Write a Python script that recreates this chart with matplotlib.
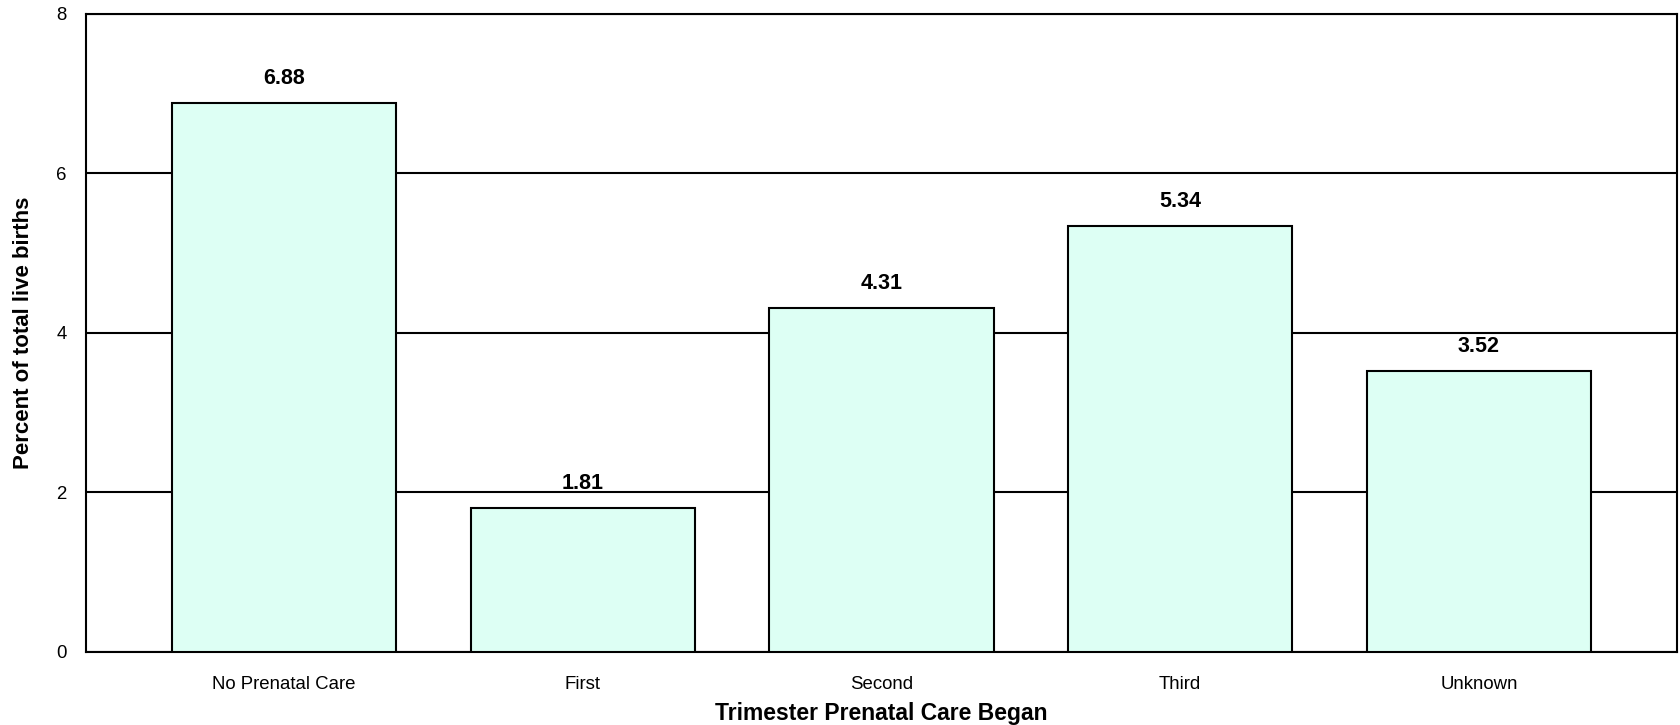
import numpy as np
import matplotlib.pyplot as plt

categories = ['No Prenatal Care', 'First', 'Second', 'Third', 'Unknown']
values = [6.88, 1.81, 4.31, 5.34, 3.52]
yticks = [0, 2, 4, 6, 8]

plt.rcParams['font.family'] = ['Liberation Sans', 'DejaVu Sans']

fig = plt.figure(figsize=(16.8, 7.25), dpi=100)
ax = fig.add_axes([0.0512, 0.1007, 0.9470, 0.8800])

x = np.arange(len(categories))
ax.bar(x, values, width=0.75, color='#ddfff4', edgecolor='black', linewidth=1.5, zorder=3)

# value labels above each bar
for xi, v in zip(x, values):
    ax.annotate(f'{v:.2f}', (xi, v), xytext=(0, 10), textcoords='offset points',
                ha='center', va='bottom', fontsize=15.5, fontweight='bold')

ax.set_xlim(-0.663, len(categories) - 1 + 0.663)
ax.set_ylim(0, 8)
ax.set_yticks(yticks)
ax.set_xticks(x)
ax.set_xticklabels(categories)
ax.tick_params(axis='both', length=0, labelsize=13.4)
ax.tick_params(axis='y', pad=14)
ax.tick_params(axis='x', pad=17)
ax.yaxis.grid(True, color='black', linewidth=1.5, zorder=0)
ax.set_axisbelow(True)
for s in ax.spines.values():
    s.set_linewidth(1.5)

ax.set_xlabel('Trimester Prenatal Care Began', fontsize=16.5, fontweight='bold', labelpad=7)
ax.set_ylabel('Percent of total live births', fontsize=16, fontweight='bold', labelpad=16)

fig.savefig('out.png', dpi=100)
